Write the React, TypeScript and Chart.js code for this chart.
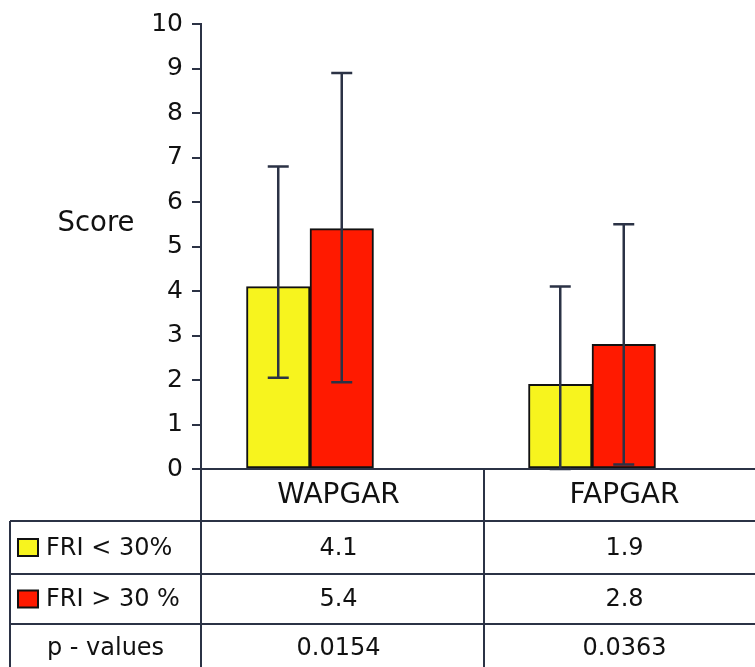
import React, { useEffect, useRef } from "react";
import { Chart, registerables } from "chart.js";

Chart.register(...registerables);

const categories = ["WAPGAR", "FAPGAR"];
const seriesLabels = ["FRI < 30%", "FRI > 30 %"];
const seriesColors = ["#F7F41E", "#FF1A00"];
const friBelow = [4.1, 1.9];
const friAbove = [5.4, 2.8];
const friBelowErrLow = [2.05, 0];
const friBelowErrHigh = [6.8, 4.1];
const friAboveErrLow = [1.95, 0.1];
const friAboveErrHigh = [8.9, 5.5];
const pValues = ["0.0154", "0.0363"];
const yMin = 0;
const yMax = 10;

const LINE = "#2B3245";
const TEXT = "#111111";
const FONT = "'DejaVu Sans', sans-serif";

export default function App() {
  const ref = useRef<HTMLCanvasElement | null>(null);

  useEffect(() => {
    const canvas = ref.current;
    if (!canvas) return;

    const errorBars = {
      id: "errorBars",
      afterDatasetsDraw(chart: any) {
        const ctx = chart.ctx;
        const y = chart.scales.y;
        const errs = [
          [friBelowErrLow, friBelowErrHigh],
          [friAboveErrLow, friAboveErrHigh],
        ];
        ctx.save();
        ctx.strokeStyle = LINE;
        ctx.lineWidth = 2.5;
        chart.data.datasets.forEach((_: any, di: number) => {
          const meta = chart.getDatasetMeta(di);
          meta.data.forEach((el: any, i: number) => {
            const x = el.x;
            const lo = y.getPixelForValue(errs[di][0][i]);
            const hi = y.getPixelForValue(errs[di][1][i]);
            ctx.beginPath();
            ctx.moveTo(x, lo);
            ctx.lineTo(x, hi);
            ctx.moveTo(x - 10.5, hi);
            ctx.lineTo(x + 10.5, hi);
            ctx.moveTo(x - 10.5, lo);
            ctx.lineTo(x + 10.5, lo);
            ctx.stroke();
          });
        });
        ctx.restore();
      },
    };

    const table = {
      id: "table",
      afterDraw(chart: any) {
        const ctx = chart.ctx;
        const area = chart.chartArea;
        const left = 10;
        const axisX = area.left;
        const midX = 484;
        const right = chart.width;
        const bottom = chart.height;
        const top = area.bottom;
        const rowH = [52, 53, 50];
        const r1 = top + rowH[0];
        const r2 = r1 + rowH[1];
        const r3 = r2 + rowH[2];

        ctx.save();
        ctx.strokeStyle = LINE;
        ctx.lineWidth = 2;
        ctx.beginPath();
        ctx.moveTo(axisX - 9, top);
        ctx.lineTo(right, top);
        [r1, r2, r3].forEach((yy) => {
          ctx.moveTo(left, yy);
          ctx.lineTo(right, yy);
        });
        ctx.moveTo(axisX, top);
        ctx.lineTo(axisX, bottom);
        ctx.moveTo(midX, top);
        ctx.lineTo(midX, bottom);
        ctx.moveTo(left, r1);
        ctx.lineTo(left, bottom);
        ctx.stroke();

        const c1 = (axisX + midX) / 2 - 4;
        const c2 = (midX + right) / 2 + 5;
        const colCenters = [c1, c2];
        ctx.fillStyle = TEXT;
        ctx.textAlign = "center";
        ctx.textBaseline = "middle";
        ctx.font = `28px ${FONT}`;
        categories.forEach((c, i) => ctx.fillText(c, colCenters[i], (top + r1) / 2 + 1));
        ctx.font = `24px ${FONT}`;
        friBelow.forEach((v, i) => ctx.fillText(v.toFixed(1), colCenters[i], (r1 + r2) / 2 + 1));
        friAbove.forEach((v, i) => ctx.fillText(v.toFixed(1), colCenters[i], (r2 + r3) / 2 + 1));
        pValues.forEach((v, i) => ctx.fillText(v, colCenters[i], r3 + 25));
        ctx.fillText("p - values", (left + axisX) / 2, r3 + 25);

        // legend rows
        const rows = [(r1 + r2) / 2, (r2 + r3) / 2];
        rows.forEach((yy, i) => {
          ctx.fillStyle = seriesColors[i];
          ctx.fillRect(18, yy - 8.5, 20, 17);
          ctx.strokeStyle = "#111";
          ctx.lineWidth = 2;
          ctx.strokeRect(18, yy - 8.5, 20, 17);
          ctx.fillStyle = TEXT;
          ctx.textAlign = "left";
          ctx.fillText(seriesLabels[i], 46, yy + 1);
        });

        // Score label
        ctx.textAlign = "center";
        ctx.font = `27.5px ${FONT}`;
        ctx.fillText("Score", 96, 224);
        ctx.restore();
      },
    };

    const chart = new Chart(canvas, {
      type: "bar",
      data: {
        datasets: [
          {
            label: seriesLabels[0],
            data: friBelow.map((v, i) => ({ x: i, y: v })),
            backgroundColor: seriesColors[0],
            borderColor: "#111",
            borderWidth: 2,
            borderSkipped: false,
          },
          {
            label: seriesLabels[1],
            data: friAbove.map((v, i) => ({ x: i, y: v })),
            backgroundColor: seriesColors[1],
            borderColor: "#111",
            borderWidth: 2,
            borderSkipped: false,
          },
        ],
      },
      options: {
        responsive: false,
        animation: false,
        events: [],
        layout: { padding: { top: 22, bottom: 198, left: 0, right: 0 } },
        plugins: { legend: { display: false }, tooltip: { enabled: false } },
        datasets: { bar: { barThickness: 63.5 } },
        scales: {
          x: {
            type: "linear",
            display: false,
            offset: false,
            min: -0.3865,
            max: 1.578,
            ticks: { stepSize: 1, includeBounds: false },
          },
          y: {
            min: yMin,
            max: yMax,
            afterFit: (s: any) => {
              s.width = 201;
            },
            ticks: {
              stepSize: 1,
              color: TEXT,
              padding: 9,
              font: { family: FONT, size: 25 },
            },
            grid: {
              drawOnChartArea: false,
              drawTicks: true,
              tickLength: 9,
              color: LINE,
              lineWidth: 2,
            },
            border: { display: true, color: LINE, width: 2 },
          },
        },
      },
      plugins: [errorBars, table],
    } as any);

    return () => chart.destroy();
  }, []);

  return (
    <div style={{ position: "absolute", left: 0, top: 0, width: 755, height: 667, background: "#fff" }}>
      <canvas ref={ref} width={755} height={667} style={{ display: "block" }} />
    </div>
  );
}
